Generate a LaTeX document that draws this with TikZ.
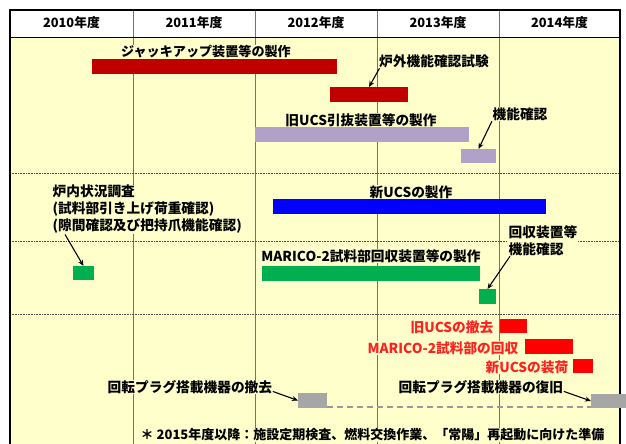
\documentclass[tikz,border=0pt]{standalone}
\usepackage{fontspec}
\setmainfont{Noto Sans CJK JP}
\usetikzlibrary{arrows.meta}
\definecolor{bgy}{HTML}{FFFFCC}
\definecolor{dred}{HTML}{C00000}
\definecolor{lav}{HTML}{B1A0C7}
\definecolor{bblue}{HTML}{0000FF}
\definecolor{bgreen}{HTML}{00B050}
\definecolor{bred}{HTML}{FF0000}
\definecolor{bgray}{HTML}{A6A6A6}
\definecolor{rtext}{HTML}{FF2020}
\begin{document}
\begin{tikzpicture}[x=1pt,y=-1pt,
 bar/.style={anchor=north west, inner sep=0pt, outer sep=0pt, draw=none},
 lbl/.style={font=\fontsize{13.7}{17}\selectfont\bfseries, inner sep=0.5pt, fill=bgy, text=black},
 rlbl/.style={lbl, text=rtext},
 hdr/.style={font=\fontsize{12.8}{14}\selectfont\bfseries, text=black},
 arr/.style={-{Stealth[length=6pt,width=5pt]}, line width=1.1pt},
 sepline/.style={densely dotted, line width=0.6pt, draw=black!70},
 colline/.style={line width=0.7pt, draw=black!55},
 frame/.style={line width=1.3pt, draw=black},
 dashline/.style={dashed, dash pattern=on 6pt off 4pt, line width=1.7pt, draw=black!40},
]
\useasboundingbox (0,0) rectangle (626,444);
\fill[white] (0,0) rectangle (626,444);
\fill[bgy] (10,38) rectangle (620,444);
% column lines
\foreach \cx in {133,255,377,499} \draw[colline] (\cx,10) -- (\cx,444);
% separators
\foreach \sy in {173,241,314} \draw[sepline] (10,\sy) -- (620,\sy);
% header
\node[hdr] (h1) at (71.5,23) {2010年度};
\node[hdr] (h2) at (194,23) {2011年度};
\node[hdr] (h3) at (316,23) {2012年度};
\node[hdr] (h4) at (438,23) {2013年度};
\node[hdr] (h5) at (559.5,23) {2014年度};
% frame
\draw[frame] (10,444) -- (10,10) -- (620,10) -- (620,444);
\draw[line width=1pt] (10,38) -- (620,38);
% bars
\node[bar, fill=dred, minimum width=245pt, minimum height=15pt] (b1) at (92,59) {};
\node[bar, fill=dred, minimum width=78pt, minimum height=15pt] (b2) at (330,87) {};
\node[bar, fill=lav, minimum width=214pt, minimum height=15pt] (b3) at (255,127) {};
\node[bar, fill=lav, minimum width=35pt, minimum height=14pt] (b4) at (461,149) {};
\node[bar, fill=bblue, minimum width=273pt, minimum height=15pt] (b5) at (273,199) {};
\node[bar, fill=bgreen, minimum width=21pt, minimum height=14pt] (b6) at (73,266) {};
\node[bar, fill=bgreen, minimum width=218pt, minimum height=15pt] (b7) at (262,266) {};
\node[bar, fill=bgreen, minimum width=17pt, minimum height=15pt] (b8) at (479,289) {};
\node[bar, fill=bred, minimum width=27pt, minimum height=14pt] (b9) at (500,319) {};
\node[bar, fill=bred, minimum width=48pt, minimum height=15pt] (b10) at (525,339) {};
\node[bar, fill=bred, minimum width=20pt, minimum height=14pt] (b11) at (573,359) {};
\node[bar, fill=bgray, minimum width=29pt, minimum height=15pt] (b12) at (298,393) {};
\node[bar, fill=bgray, minimum width=35pt, minimum height=14pt] (b13) at (591,394) {};
\draw[dashline] ([yshift=0.85pt]b12.south east) -- ([yshift=0.85pt]b13.south west);
% labels
\node[lbl, font=\fontsize{13.1}{17}\selectfont\bfseries] (l1) at (206,52) {ジャッキアップ装置等の製作};
\node[lbl] (l2) at (434,61) {炉外機能確認試験};
\node[lbl] (l3) at (361,120) {旧UCS引抜装置等の製作};
\node[lbl] (l4) at (520,114) {機能確認};
\node[lbl, anchor=north west, align=left] (l5) at (52,184.5) {炉内状況調査\\(試料部引き上げ荷重確認)\\(隙間確認及び把持爪機能確認)};
\node[lbl] (l6) at (411,192) {新UCSの製作};
\node[lbl] (l7) at (371,256) {MARICO-2試料部回収装置等の製作};
\node[lbl, anchor=west, align=left] (l8) at (508,240.5) {回収装置等\\機能確認};
\node[rlbl, anchor=east] (l9) at (494,327) {旧UCSの撤去};
\node[rlbl, anchor=east] (l10) at (519,348) {MARICO-2試料部の回収};
\node[rlbl, anchor=east] (l11) at (569,367) {新UCSの装荷};
\node[lbl, anchor=west] (l12) at (398,387) {回転プラグ搭載機器の復旧};
\node[lbl, anchor=west] (l13) at (107,387) {回転プラグ搭載機器の撤去};
\node[lbl, anchor=west, font=\fontsize{13}{15}\selectfont\bfseries] (l14) at (140,435) {＊ 2015年度以降：施設定期検査、燃料交換作業、「常陽」再起動に向けた準備};
% arrows
\draw[arr] ([xshift=1pt]l2.south west) -- (b2.north);
\draw[arr] (l4.south west) -- (b4.north);
\draw[arr] ([xshift=13pt]l5.south west) -- (b6.north);
\draw[arr] ([xshift=2pt]l8.south west) -- (b8.north);
\draw[arr] ([yshift=3pt]l13.south east) -- (b12.west);
\draw[arr] ([yshift=3pt]l12.south east) -- (b13.west);
\end{tikzpicture}
\end{document}
